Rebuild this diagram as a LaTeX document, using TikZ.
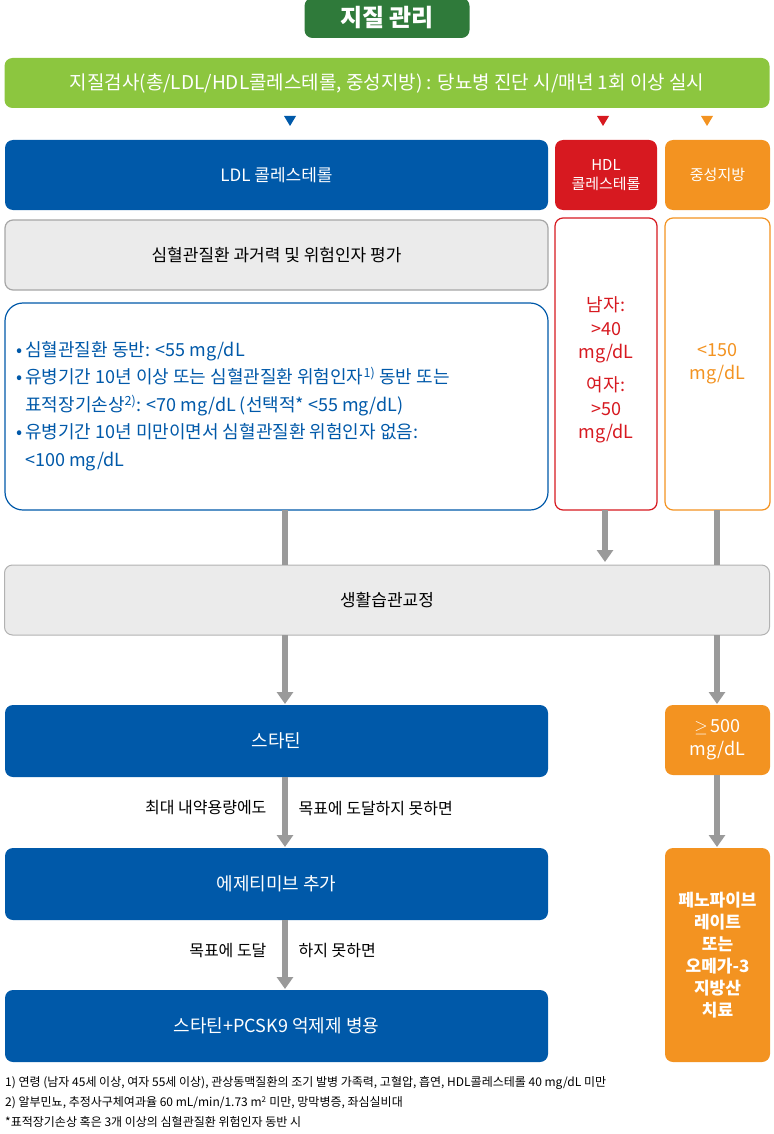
\documentclass[tikz,border=0pt]{standalone}
\usepackage{fontspec}
\setmainfont{Noto Sans CJK KR}
\usetikzlibrary{arrows.meta}
\definecolor{titlegreen}{HTML}{2F7A3A}
\definecolor{barlime}{HTML}{8CC63F}
\definecolor{ldlblue}{HTML}{0059A9}
\definecolor{hdlred}{HTML}{D71920}
\definecolor{tgorange}{HTML}{F39321}
\definecolor{flowgray}{HTML}{9A9A9A}
\newcommand{\px}[1]{\fontsize{#1}{\fpeval{#1*1.3}}\selectfont}

\begin{document}
\begin{tikzpicture}[x=1pt,y=-1pt,
    box/.style={rounded corners=8pt,inner sep=0pt,align=center},
    solid box/.style={box,fill=#1,text=white},
    line box/.style={box,draw=#1,line width=1.2pt,fill=white,text=#1},
    flow/.style={draw=flowgray,line width=6pt,-{Triangle[length=12pt,width=16pt]}},
    flowline/.style={draw=flowgray,line width=6pt}
]
\useasboundingbox (0,0) rectangle (773,1134);

% headers
\node[solid box=titlegreen,minimum width=165pt,minimum height=40pt,font=\px{24}\bfseries]
    (title) at (387,18) {지질 관리};
\node[solid box=barlime,minimum width=765pt,minimum height=50pt,font=\px{19}]
    (check) at (387,83) {지질검사(총/LDL/HDL콜레스테롤, 중성지방) : 당뇨병 진단 시/매년 1회 이상 실시};

\fill[ldlblue] (284,116) -- (296,116) -- (290,126) -- cycle;
\fill[hdlred] (597,116) -- (609,116) -- (603,126) -- cycle;
\fill[tgorange] (701,116) -- (713,116) -- (707,126) -- cycle;

\node[solid box=ldlblue,minimum width=543pt,minimum height=70pt,font=\px{17}]
    (ldl) at (276.5,175) {LDL 콜레스테롤};
\node[solid box=hdlred,minimum width=102pt,minimum height=70pt,font=\px{15}]
    (hdl) at (606,175) {HDL\\콜레스테롤};
\node[solid box=tgorange,minimum width=105pt,minimum height=70pt,font=\px{15}]
    (tg) at (717.5,175) {중성지방};

% targets
\node[box,draw=gray!70,line width=1.2pt,fill=black!8,minimum width=543pt,minimum height=70pt,font=\px{17}]
    (risk) at (276.5,255) {심혈관질환 과거력 및 위험인자 평가};
\node[line box=ldlblue,minimum width=543pt,minimum height=207pt,rounded corners=18pt]
    (ldlgoal) at (276.5,406.5) {};
\node[anchor=west,text=ldlblue,align=left,font=\px{18},inner sep=0pt]
    at (16,406) {%
    \textbullet\,심혈관질환 동반: <55 mg/dL\\[4pt]
    \textbullet\,유병기간 10년 이상 또는 심혈관질환 위험인자\textsuperscript{1)} 동반 또는\\[4pt]
    \hphantom{\textbullet\,}표적장기손상\textsuperscript{2)}: <70 mg/dL (선택적* <55 mg/dL)\\[4pt]
    \textbullet\,유병기간 10년 미만이면서 심혈관질환 위험인자 없음:\\[4pt]
    \hphantom{\textbullet\,}<100 mg/dL};
\node[line box=hdlred,minimum width=102pt,minimum height=292pt,font=\px{18}]
    (hdlgoal) at (606,364) {};
\node[text=hdlred,align=center,font=\px{18}] at (606,370)
    {남자:\\>40\\mg/dL\\[10pt]여자:\\>50\\mg/dL};
\node[line box=tgorange,minimum width=105pt,minimum height=292pt,font=\px{18}]
    (tggoal) at (717.5,364) {<150\\mg/dL};

% lifestyle and treatment
\node[box,draw=gray!60,line width=1pt,fill=black!8,minimum width=765pt,minimum height=70pt,font=\px{17}]
    (life) at (387,600) {생활습관교정};
\node[solid box=ldlblue,minimum width=543pt,minimum height=72pt,font=\px{18}]
    (statin) at (276.5,741) {스타틴};
\node[solid box=tgorange,minimum width=105pt,minimum height=70pt,font=\px{18}]
    (tghigh) at (717.5,740) {$\geq$\,500\\mg/dL};
\node[solid box=ldlblue,minimum width=543pt,minimum height=72pt,font=\px{18}]
    (ezet) at (276.5,884) {에제티미브 추가};
\node[solid box=ldlblue,minimum width=543pt,minimum height=72pt,font=\px{18}]
    (pcsk) at (276.5,1026) {스타틴+PCSK9 억제제 병용};
\node[solid box=tgorange,minimum width=105pt,minimum height=214pt,font=\px{17}\bfseries]
    (fibrate) at (717.5,955) {페노파이브\\레이트\\또는\\오메가-3\\지방산\\치료};

% arrows
\draw[flowline] (285,510) -- (285,565);
\draw[flow] (605,510) -- (605,562);
\draw[flowline] (717,510) -- (717,565);
\draw[flow] (285,635) -- (285,704);
\draw[flow] (717,635) -- (717,704);
\draw[flow] (285,777) -- (285,847);
\draw[flow] (717,775) -- (717,847);
\draw[flow] (285,920) -- (285,989);

\node[anchor=east,font=\px{16}] (lbla) at (270,808) {최대 내약용량에도};
\node[anchor=west,font=\px{16}] (lblb) at (295,808) {목표에 도달하지 못하면};
\node[anchor=east,font=\px{16}] (lblc) at (270,950) {목표에 도달};
\node[anchor=west,font=\px{16}] (lbld) at (295,950) {하지 못하면};

% footnotes
\node[anchor=west,font=\px{12},inner sep=0pt] (fn1) at (5,1083)
    {1) 연령 (남자 45세 이상, 여자 55세 이상), 관상동맥질환의 조기 발병 가족력, 고혈압, 흡연, HDL콜레스테롤 40 mg/dL 미만};
\node[anchor=west,font=\px{12},inner sep=0pt] (fn2) at (5,1103)
    {2) 알부민뇨, 추정사구체여과율 60 mL/min/1.73 m\textsuperscript{2} 미만, 망막병증, 좌심실비대};
\node[anchor=west,font=\px{12},inner sep=0pt] (fn3) at (5,1122)
    {*표적장기손상 혹은 3개 이상의 심혈관질환 위험인자 동반 시};
\end{tikzpicture}
\end{document}
